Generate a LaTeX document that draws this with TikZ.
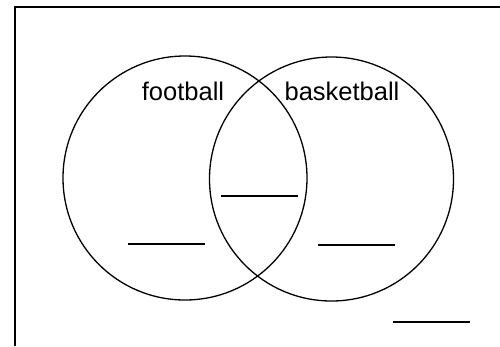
\documentclass[tikz,border=0pt]{standalone}
\usepackage{fontspec}
\setmainfont{Liberation Sans}
\begin{document}
\begin{tikzpicture}[x=1pt,y=-1pt,
  setcircle/.style={draw, circle, line width=1.3pt, minimum size=244pt, inner sep=0pt},
  label/.style={font=\fontsize{25.5}{28}\selectfont, inner sep=0pt, anchor=base},
  blank/.style={line width=1.5pt}]
\useasboundingbox (0,0) rectangle (500,346);
\fill[white] (0,0) rectangle (500,346);
% frame
\draw[line width=1.2pt] (15,346) -- (15,7) -- (500,7);
% circles
\node[setcircle] (A) at (185,178) {};
\node[setcircle] (B) at (331.5,179) {};
% labels
\node[label] (fb) at (183,100) {football};
\node[label] (bb) at (342,100) {basketball};
% blanks
\coordinate (m1) at (221,196); \coordinate (m2) at (298,196);
\coordinate (l1) at (128,244); \coordinate (l2) at (205,244);
\coordinate (r1) at (318,245); \coordinate (r2) at (395,245);
\coordinate (o1) at (393,322); \coordinate (o2) at (470,322);
\draw[blank] (m1) -- (m2);
\draw[blank] (l1) -- (l2);
\draw[blank] (r1) -- (r2);
\draw[blank] (o1) -- (o2);
\end{tikzpicture}
\end{document}
